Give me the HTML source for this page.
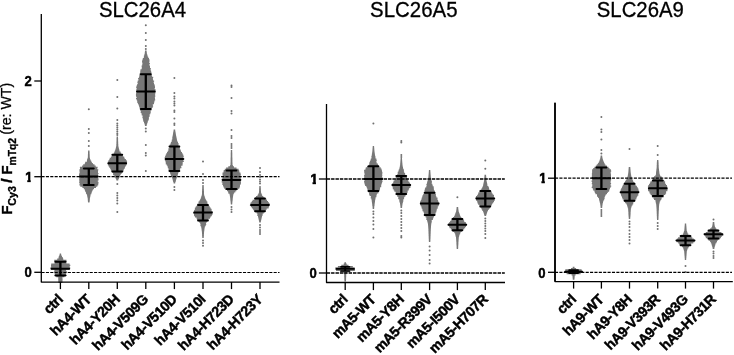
<!DOCTYPE html>
<html><head><meta charset="utf-8"><title>SLC26 surface expression</title>
<style>
html,body{margin:0;padding:0;background:#fff;}
svg{display:block;will-change:transform;}
text{font-family:"Liberation Sans",Arial,Helvetica,sans-serif;fill:#000;}
</style></head><body>
<svg width="734" height="355" viewBox="0 0 734 355">
<rect width="734" height="355" fill="#fff"/>
<polygon points="59.7,253.5 59.7,254.8 59.3,254.8 59.3,256.0 58.8,256.0 58.8,257.2 58.5,257.2 58.5,258.5 57.2,258.5 57.2,259.8 54.2,259.8 54.2,261.0 54.2,261.0 54.2,262.2 54.6,262.2 54.6,263.5 51.2,263.5 51.2,264.8 51.0,264.8 51.0,266.0 51.1,266.0 51.1,267.2 50.5,267.2 50.5,268.5 51.0,268.5 51.0,269.8 54.4,269.8 54.4,271.0 54.2,271.0 54.2,272.2 54.4,272.2 54.4,273.5 54.8,273.5 54.8,274.8 54.6,274.8 54.6,276.0 56.3,276.0 56.3,277.2 58.3,277.2 58.3,278.5 58.2,278.5 58.2,279.8 58.3,279.8 58.3,281.0 58.3,281.0 58.3,282.2 58.4,282.2 58.4,283.0 62.4,283.0 62.4,282.2 62.5,282.2 62.5,281.0 62.5,281.0 62.5,279.8 62.6,279.8 62.6,278.5 62.4,278.5 62.4,277.2 64.4,277.2 64.4,276.0 66.7,276.0 66.7,274.8 66.0,274.8 66.0,273.5 66.4,273.5 66.4,272.2 66.7,272.2 66.7,271.0 66.1,271.0 66.1,269.8 69.5,269.8 69.5,268.5 70.2,268.5 70.2,267.2 69.7,267.2 69.7,266.0 70.3,266.0 70.3,264.8 69.6,264.8 69.6,263.5 66.4,263.5 66.4,262.2 66.8,262.2 66.8,261.0 66.5,261.0 66.5,259.8 63.3,259.8 63.3,258.5 63.0,258.5 63.0,257.2 62.0,257.2 62.0,256.0 61.5,256.0 61.5,254.8 61.1,254.8 61.1,253.5" fill="#777777"/>

<polygon points="88.1,150.5 88.1,151.8 88.0,151.8 88.0,153.0 88.0,153.0 88.0,154.2 87.9,154.2 87.9,155.5 87.9,155.5 87.9,156.8 87.8,156.8 87.8,158.0 87.5,158.0 87.5,159.2 87.0,159.2 87.0,160.5 86.9,160.5 86.9,161.8 85.2,161.8 85.2,163.0 84.8,163.0 84.8,164.2 83.2,164.2 83.2,165.5 82.1,165.5 82.1,166.8 79.9,166.8 79.9,168.0 80.0,168.0 80.0,169.2 79.4,169.2 79.4,170.5 79.5,170.5 79.5,171.8 79.6,171.8 79.6,173.0 79.3,173.0 79.3,174.2 79.0,174.2 79.0,175.5 79.1,175.5 79.1,176.8 79.2,176.8 79.2,178.0 79.3,178.0 79.3,179.2 79.2,179.2 79.2,180.5 79.4,180.5 79.4,181.8 79.2,181.8 79.2,183.0 79.6,183.0 79.6,184.2 79.4,184.2 79.4,185.5 80.3,185.5 80.3,186.8 82.4,186.8 82.4,188.0 83.8,188.0 83.8,189.2 84.8,189.2 84.8,190.5 85.1,190.5 85.1,191.8 85.9,191.8 85.9,193.0 86.1,193.0 86.1,194.2 87.0,194.2 87.0,195.5 87.2,195.5 87.2,196.8 87.5,196.8 87.5,198.0 87.7,198.0 87.7,199.2 87.8,199.2 87.8,200.5 87.9,200.5 87.9,201.8 88.1,201.8 88.1,202.5 89.5,202.5 89.5,201.8 89.7,201.8 89.7,200.5 89.8,200.5 89.8,199.2 89.9,199.2 89.9,198.0 90.1,198.0 90.1,196.8 90.4,196.8 90.4,195.5 90.6,195.5 90.6,194.2 91.4,194.2 91.4,193.0 91.7,193.0 91.7,191.8 92.2,191.8 92.2,190.5 92.9,190.5 92.9,189.2 94.0,189.2 94.0,188.0 96.0,188.0 96.0,186.8 97.3,186.8 97.3,185.5 98.2,185.5 98.2,184.2 98.4,184.2 98.4,183.0 98.5,183.0 98.5,181.8 97.8,181.8 97.8,180.5 98.6,180.5 98.6,179.2 98.4,179.2 98.4,178.0 98.0,178.0 98.0,176.8 98.4,176.8 98.4,175.5 98.0,175.5 98.0,174.2 98.5,174.2 98.5,173.0 98.0,173.0 98.0,171.8 98.0,171.8 98.0,170.5 98.3,170.5 98.3,169.2 97.3,169.2 97.3,168.0 97.6,168.0 97.6,166.8 95.7,166.8 95.7,165.5 94.5,165.5 94.5,164.2 92.9,164.2 92.9,163.0 91.9,163.0 91.9,161.8 91.2,161.8 91.2,160.5 90.5,160.5 90.5,159.2 90.0,159.2 90.0,158.0 89.8,158.0 89.8,156.8 89.7,156.8 89.7,155.5 89.7,155.5 89.7,154.2 89.6,154.2 89.6,153.0 89.6,153.0 89.6,151.8 89.5,151.8 89.5,150.5" fill="#777777"/>
<circle cx="88.8" cy="109.2" r="1.00" fill="#707070"/><circle cx="88.8" cy="129.0" r="1.00" fill="#707070"/><circle cx="88.8" cy="133.0" r="1.00" fill="#707070"/><circle cx="88.8" cy="141.0" r="1.00" fill="#707070"/><circle cx="88.8" cy="146.0" r="1.00" fill="#707070"/>
<polygon points="116.6,136.5 116.6,137.8 116.5,137.8 116.5,139.0 116.5,139.0 116.5,140.2 116.5,140.2 116.5,141.5 116.4,141.5 116.4,142.8 116.4,142.8 116.4,144.0 116.3,144.0 116.3,145.2 116.3,145.2 116.3,146.5 116.0,146.5 116.0,147.8 115.7,147.8 115.7,149.0 115.4,149.0 115.4,150.2 114.9,150.2 114.9,151.5 114.3,151.5 114.3,152.8 113.7,152.8 113.7,154.0 112.3,154.0 112.3,155.2 111.8,155.2 111.8,156.5 110.9,156.5 110.9,157.8 109.7,157.8 109.7,159.0 109.3,159.0 109.3,160.2 108.4,160.2 108.4,161.5 107.9,161.5 107.9,162.8 107.4,162.8 107.4,164.0 107.8,164.0 107.8,165.2 108.5,165.2 108.5,166.5 109.2,166.5 109.2,167.8 110.2,167.8 110.2,169.0 110.7,169.0 110.7,170.2 111.1,170.2 111.1,171.5 112.2,171.5 112.2,172.8 113.1,172.8 113.1,174.0 113.1,174.0 113.1,175.2 114.4,175.2 114.4,176.5 114.7,176.5 114.7,177.8 115.7,177.8 115.7,179.0 116.2,179.0 116.2,180.2 116.5,180.2 116.5,180.5 118.1,180.5 118.1,180.2 118.4,180.2 118.4,179.0 118.9,179.0 118.9,177.8 119.6,177.8 119.6,176.5 120.0,176.5 120.0,175.2 120.7,175.2 120.7,174.0 121.6,174.0 121.6,172.8 122.4,172.8 122.4,171.5 123.5,171.5 123.5,170.2 123.8,170.2 123.8,169.0 124.6,169.0 124.6,167.8 125.0,167.8 125.0,166.5 125.9,166.5 125.9,165.2 126.7,165.2 126.7,164.0 126.8,164.0 126.8,162.8 127.1,162.8 127.1,161.5 126.8,161.5 126.8,160.2 125.9,160.2 125.9,159.0 124.7,159.0 124.7,157.8 124.2,157.8 124.2,156.5 122.9,156.5 122.9,155.2 122.5,155.2 122.5,154.0 121.2,154.0 121.2,152.8 120.6,152.8 120.6,151.5 119.5,151.5 119.5,150.2 119.2,150.2 119.2,149.0 118.9,149.0 118.9,147.8 118.6,147.8 118.6,146.5 118.3,146.5 118.3,145.2 118.3,145.2 118.3,144.0 118.2,144.0 118.2,142.8 118.2,142.8 118.2,141.5 118.1,141.5 118.1,140.2 118.1,140.2 118.1,139.0 118.1,139.0 118.1,137.8 118.0,137.8 118.0,136.5" fill="#777777"/>
<circle cx="117.3" cy="80.0" r="1.00" fill="#707070"/><circle cx="117.3" cy="97.0" r="1.00" fill="#707070"/><circle cx="117.3" cy="108.6" r="1.00" fill="#707070"/><circle cx="117.3" cy="120.0" r="1.00" fill="#707070"/><circle cx="117.3" cy="123.5" r="1.00" fill="#707070"/><circle cx="117.3" cy="125.5" r="1.00" fill="#707070"/><circle cx="117.3" cy="127.5" r="1.00" fill="#707070"/><circle cx="117.3" cy="129.5" r="1.00" fill="#707070"/><circle cx="117.3" cy="131.5" r="1.00" fill="#707070"/><circle cx="117.3" cy="133.5" r="1.00" fill="#707070"/><circle cx="117.3" cy="135.0" r="1.00" fill="#707070"/><circle cx="117.3" cy="184.0" r="1.00" fill="#707070"/><circle cx="117.3" cy="193.0" r="1.00" fill="#707070"/><circle cx="117.3" cy="195.5" r="1.00" fill="#707070"/><circle cx="117.3" cy="198.0" r="1.00" fill="#707070"/><circle cx="117.3" cy="200.5" r="1.00" fill="#707070"/><circle cx="117.3" cy="203.5" r="1.00" fill="#707070"/><circle cx="117.3" cy="212.0" r="1.00" fill="#707070"/>
<polygon points="145.0,50.5 145.0,51.8 144.8,51.8 144.8,53.0 144.7,53.0 144.7,54.2 144.3,54.2 144.3,55.5 143.9,55.5 143.9,56.8 143.8,56.8 143.8,58.0 142.8,58.0 142.8,59.2 142.5,59.2 142.5,60.5 142.0,60.5 142.0,61.8 142.2,61.8 142.2,63.0 142.4,63.0 142.4,64.2 142.2,64.2 142.2,65.5 141.6,65.5 141.6,66.8 141.8,66.8 141.8,68.0 141.7,68.0 141.7,69.2 140.5,69.2 140.5,70.5 140.3,70.5 140.3,71.8 140.2,71.8 140.2,73.0 139.7,73.0 139.7,74.2 139.4,74.2 139.4,75.5 139.3,75.5 139.3,76.8 138.9,76.8 138.9,78.0 138.1,78.0 138.1,79.2 138.5,79.2 138.5,80.5 137.7,80.5 137.7,81.8 137.4,81.8 137.4,83.0 137.7,83.0 137.7,84.2 137.0,84.2 137.0,85.5 136.5,85.5 136.5,86.8 136.2,86.8 136.2,88.0 136.6,88.0 136.6,89.2 136.3,89.2 136.3,90.5 136.3,90.5 136.3,91.8 136.3,91.8 136.3,93.0 136.1,93.0 136.1,94.2 135.9,94.2 135.9,95.5 136.0,95.5 136.0,96.8 136.6,96.8 136.6,98.0 136.0,98.0 136.0,99.2 136.7,99.2 136.7,100.5 137.2,100.5 137.2,101.8 137.3,101.8 137.3,103.0 137.9,103.0 137.9,104.2 138.6,104.2 138.6,105.5 139.0,105.5 139.0,106.8 139.5,106.8 139.5,108.0 139.7,108.0 139.7,109.2 140.0,109.2 140.0,110.5 140.8,110.5 140.8,111.8 140.7,111.8 140.7,113.0 141.5,113.0 141.5,114.2 141.7,114.2 141.7,115.5 142.6,115.5 142.6,116.8 142.4,116.8 142.4,118.0 142.8,118.0 142.8,119.2 143.1,119.2 143.1,120.5 143.3,120.5 143.3,121.8 144.0,121.8 144.0,123.0 144.4,123.0 144.4,124.2 144.8,124.2 144.8,125.5 145.0,125.5 145.0,126.0 146.6,126.0 146.6,125.5 146.8,125.5 146.8,124.2 147.2,124.2 147.2,123.0 147.6,123.0 147.6,121.8 147.9,121.8 147.9,120.5 148.7,120.5 148.7,119.2 148.9,119.2 148.9,118.0 148.9,118.0 148.9,116.8 149.7,116.8 149.7,115.5 149.6,115.5 149.6,114.2 150.4,114.2 150.4,113.0 150.7,113.0 150.7,111.8 150.7,111.8 150.7,110.5 151.5,110.5 151.5,109.2 151.5,109.2 151.5,108.0 152.6,108.0 152.6,106.8 153.1,106.8 153.1,105.5 152.8,105.5 152.8,104.2 154.0,104.2 154.0,103.0 154.2,103.0 154.2,101.8 154.5,101.8 154.5,100.5 155.2,100.5 155.2,99.2 155.0,99.2 155.0,98.0 154.9,98.0 154.9,96.8 155.3,96.8 155.3,95.5 155.1,95.5 155.1,94.2 155.3,94.2 155.3,93.0 155.5,93.0 155.5,91.8 155.5,91.8 155.5,90.5 155.6,90.5 155.6,89.2 154.7,89.2 154.7,88.0 155.0,88.0 155.0,86.8 154.9,86.8 154.9,85.5 154.6,85.5 154.6,84.2 154.0,84.2 154.0,83.0 153.7,83.0 153.7,81.8 154.1,81.8 154.1,80.5 153.1,80.5 153.1,79.2 152.9,79.2 152.9,78.0 153.2,78.0 153.2,76.8 152.0,76.8 152.0,75.5 151.7,75.5 151.7,74.2 151.5,74.2 151.5,73.0 151.4,73.0 151.4,71.8 151.1,71.8 151.1,70.5 150.6,70.5 150.6,69.2 150.8,69.2 150.8,68.0 150.0,68.0 150.0,66.8 150.0,66.8 150.0,65.5 149.3,65.5 149.3,64.2 149.9,64.2 149.9,63.0 149.3,63.0 149.3,61.8 149.5,61.8 149.5,60.5 149.5,60.5 149.5,59.2 149.0,59.2 149.0,58.0 148.3,58.0 148.3,56.8 147.7,56.8 147.7,55.5 147.3,55.5 147.3,54.2 146.9,54.2 146.9,53.0 146.8,53.0 146.8,51.8 146.6,51.8 146.6,50.5" fill="#777777"/>
<circle cx="145.8" cy="25.2" r="1.00" fill="#707070"/><circle cx="145.8" cy="33.0" r="1.00" fill="#707070"/><circle cx="145.8" cy="40.0" r="1.00" fill="#707070"/><circle cx="145.8" cy="46.0" r="1.00" fill="#707070"/><circle cx="145.8" cy="49.0" r="1.00" fill="#707070"/><circle cx="145.8" cy="128.5" r="1.00" fill="#707070"/><circle cx="145.8" cy="131.5" r="1.00" fill="#707070"/><circle cx="145.8" cy="145.0" r="1.00" fill="#707070"/><circle cx="145.8" cy="153.0" r="1.00" fill="#707070"/><circle cx="145.8" cy="155.5" r="1.00" fill="#707070"/><circle cx="145.8" cy="171.0" r="1.00" fill="#707070"/>
<polygon points="173.6,129.6 173.6,130.8 173.4,130.8 173.4,132.1 173.2,132.1 173.2,133.3 173.0,133.3 173.0,134.6 172.8,134.6 172.8,135.8 172.5,135.8 172.5,137.1 172.3,137.1 172.3,138.3 172.3,138.3 172.3,139.6 171.8,139.6 171.8,140.8 171.6,140.8 171.6,142.1 170.9,142.1 170.9,143.3 170.5,143.3 170.5,144.6 169.7,144.6 169.7,145.8 169.7,145.8 169.7,147.1 169.4,147.1 169.4,148.3 168.4,148.3 168.4,149.6 168.4,149.6 168.4,150.8 167.7,150.8 167.7,152.1 167.0,152.1 167.0,153.3 166.2,153.3 166.2,154.6 165.7,154.6 165.7,155.8 165.1,155.8 165.1,157.1 164.7,157.1 164.7,158.3 165.3,158.3 165.3,159.6 164.9,159.6 164.9,160.8 165.5,160.8 165.5,162.1 165.7,162.1 165.7,163.3 165.8,163.3 165.8,164.6 166.8,164.6 166.8,165.8 167.6,165.8 167.6,167.1 167.8,167.1 167.8,168.3 168.5,168.3 168.5,169.6 168.6,169.6 168.6,170.8 169.7,170.8 169.7,172.1 169.9,172.1 169.9,173.3 170.3,173.3 170.3,174.6 170.9,174.6 170.9,175.8 171.1,175.8 171.1,177.1 172.0,177.1 172.0,178.3 172.4,178.3 172.4,179.6 172.8,179.6 172.8,180.8 173.1,180.8 173.1,182.1 173.5,182.1 173.5,183.3 173.7,183.3 173.7,183.6 175.1,183.6 175.1,183.3 175.3,183.3 175.3,182.1 175.7,182.1 175.7,180.8 176.0,180.8 176.0,179.6 176.4,179.6 176.4,178.3 176.9,178.3 176.9,177.1 177.5,177.1 177.5,175.8 177.7,175.8 177.7,174.6 178.0,174.6 178.0,173.3 178.5,173.3 178.5,172.1 179.3,172.1 179.3,170.8 179.9,170.8 179.9,169.6 180.2,169.6 180.2,168.3 181.4,168.3 181.4,167.1 181.2,167.1 181.2,165.8 182.5,165.8 182.5,164.6 182.7,164.6 182.7,163.3 182.7,163.3 182.7,162.1 183.8,162.1 183.8,160.8 183.3,160.8 183.3,159.6 184.3,159.6 184.3,158.3 183.4,158.3 183.4,157.1 183.7,157.1 183.7,155.8 183.3,155.8 183.3,154.6 182.7,154.6 182.7,153.3 182.0,153.3 182.0,152.1 181.1,152.1 181.1,150.8 180.7,150.8 180.7,149.6 179.8,149.6 179.8,148.3 179.9,148.3 179.9,147.1 179.0,147.1 179.0,145.8 178.4,145.8 178.4,144.6 178.7,144.6 178.7,143.3 178.0,143.3 178.0,142.1 177.5,142.1 177.5,140.8 177.0,140.8 177.0,139.6 176.8,139.6 176.8,138.3 176.5,138.3 176.5,137.1 176.3,137.1 176.3,135.8 176.0,135.8 176.0,134.6 175.8,134.6 175.8,133.3 175.6,133.3 175.6,132.1 175.4,132.1 175.4,130.8 175.2,130.8 175.2,129.6" fill="#777777"/>
<circle cx="174.4" cy="78.0" r="1.00" fill="#707070"/><circle cx="174.4" cy="93.0" r="1.00" fill="#707070"/><circle cx="174.4" cy="96.5" r="1.00" fill="#707070"/><circle cx="174.4" cy="98.5" r="1.00" fill="#707070"/><circle cx="174.4" cy="101.5" r="1.00" fill="#707070"/><circle cx="174.4" cy="103.5" r="1.00" fill="#707070"/><circle cx="174.4" cy="105.5" r="1.00" fill="#707070"/><circle cx="174.4" cy="110.5" r="1.00" fill="#707070"/><circle cx="174.4" cy="112.0" r="1.00" fill="#707070"/><circle cx="174.4" cy="118.5" r="1.00" fill="#707070"/><circle cx="174.4" cy="123.5" r="1.00" fill="#707070"/><circle cx="174.4" cy="125.0" r="1.00" fill="#707070"/><circle cx="174.4" cy="187.0" r="1.00" fill="#707070"/><circle cx="174.4" cy="190.0" r="1.00" fill="#707070"/>
<polygon points="202.3,185.0 202.3,186.2 202.2,186.2 202.2,187.5 202.2,187.5 202.2,188.8 202.1,188.8 202.1,190.0 202.1,190.0 202.1,191.2 202.0,191.2 202.0,192.5 202.0,192.5 202.0,193.8 201.9,193.8 201.9,195.0 201.7,195.0 201.7,196.2 201.2,196.2 201.2,197.5 200.9,197.5 200.9,198.8 200.2,198.8 200.2,200.0 199.6,200.0 199.6,201.2 198.6,201.2 198.6,202.5 198.4,202.5 198.4,203.8 197.1,203.8 197.1,205.0 196.8,205.0 196.8,206.2 195.8,206.2 195.8,207.5 194.9,207.5 194.9,208.8 194.8,208.8 194.8,210.0 194.1,210.0 194.1,211.2 193.9,211.2 193.9,212.5 193.3,212.5 193.3,213.8 194.0,213.8 194.0,215.0 194.1,215.0 194.1,216.2 195.0,216.2 195.0,217.5 196.5,217.5 196.5,218.8 196.9,218.8 196.9,220.0 197.8,220.0 197.8,221.2 199.0,221.2 199.0,222.5 200.1,222.5 200.1,223.8 200.5,223.8 200.5,225.0 200.4,225.0 200.4,226.2 201.1,226.2 201.1,227.5 201.4,227.5 201.4,228.8 201.6,228.8 201.6,230.0 201.7,230.0 201.7,231.2 201.9,231.2 201.9,232.5 202.0,232.5 202.0,233.8 202.1,233.8 202.1,235.0 202.1,235.0 202.1,236.2 202.2,236.2 202.2,237.5 202.3,237.5 202.3,238.0 203.7,238.0 203.7,237.5 203.8,237.5 203.8,236.2 203.9,236.2 203.9,235.0 203.9,235.0 203.9,233.8 204.0,233.8 204.0,232.5 204.1,232.5 204.1,231.2 204.3,231.2 204.3,230.0 204.4,230.0 204.4,228.8 204.6,228.8 204.6,227.5 204.9,227.5 204.9,226.2 205.7,226.2 205.7,225.0 206.2,225.0 206.2,223.8 206.0,223.8 206.0,222.5 207.0,222.5 207.0,221.2 207.9,221.2 207.9,220.0 208.5,220.0 208.5,218.8 210.0,218.8 210.0,217.5 210.7,217.5 210.7,216.2 211.8,216.2 211.8,215.0 212.4,215.0 212.4,213.8 212.6,213.8 212.6,212.5 212.7,212.5 212.7,211.2 211.6,211.2 211.6,210.0 211.6,210.0 211.6,208.8 210.7,208.8 210.7,207.5 209.8,207.5 209.8,206.2 209.1,206.2 209.1,205.0 208.1,205.0 208.1,203.8 207.4,203.8 207.4,202.5 207.3,202.5 207.3,201.2 206.4,201.2 206.4,200.0 205.8,200.0 205.8,198.8 205.1,198.8 205.1,197.5 204.8,197.5 204.8,196.2 204.3,196.2 204.3,195.0 204.1,195.0 204.1,193.8 204.0,193.8 204.0,192.5 204.0,192.5 204.0,191.2 203.9,191.2 203.9,190.0 203.9,190.0 203.9,188.8 203.8,188.8 203.8,187.5 203.8,187.5 203.8,186.2 203.7,186.2 203.7,185.0" fill="#777777"/>
<circle cx="203.0" cy="161.5" r="1.00" fill="#707070"/><circle cx="203.0" cy="174.0" r="1.00" fill="#707070"/><circle cx="203.0" cy="180.0" r="1.00" fill="#707070"/><circle cx="203.0" cy="183.0" r="1.00" fill="#707070"/><circle cx="203.0" cy="240.5" r="1.00" fill="#707070"/><circle cx="203.0" cy="243.0" r="1.00" fill="#707070"/><circle cx="203.0" cy="245.7" r="1.00" fill="#707070"/>
<polygon points="230.8,150.0 230.8,151.2 230.8,151.2 230.8,152.5 230.7,152.5 230.7,153.8 230.7,153.8 230.7,155.0 230.7,155.0 230.7,156.2 230.7,156.2 230.7,157.5 230.6,157.5 230.6,158.8 230.6,158.8 230.6,160.0 230.6,160.0 230.6,161.2 230.6,161.2 230.6,162.5 230.5,162.5 230.5,163.8 230.5,163.8 230.5,165.0 230.1,165.0 230.1,166.2 228.3,166.2 228.3,167.5 226.1,167.5 226.1,168.8 224.8,168.8 224.8,170.0 223.7,170.0 223.7,171.2 223.5,171.2 223.5,172.5 222.5,172.5 222.5,173.8 222.5,173.8 222.5,175.0 222.7,175.0 222.7,176.2 222.5,176.2 222.5,177.5 222.4,177.5 222.4,178.8 221.7,178.8 221.7,180.0 222.3,180.0 222.3,181.2 221.6,181.2 221.6,182.5 222.4,182.5 222.4,183.8 222.3,183.8 222.3,185.0 223.0,185.0 223.0,186.2 223.5,186.2 223.5,187.5 224.2,187.5 224.2,188.8 225.3,188.8 225.3,190.0 227.0,190.0 227.0,191.2 228.1,191.2 228.1,192.5 228.4,192.5 228.4,193.8 229.6,193.8 229.6,195.0 229.8,195.0 229.8,196.2 230.0,196.2 230.0,197.5 230.2,197.5 230.2,198.8 230.3,198.8 230.3,200.0 230.4,200.0 230.4,201.2 230.6,201.2 230.6,202.5 230.7,202.5 230.7,203.8 230.8,203.8 230.8,204.5 232.2,204.5 232.2,203.8 232.3,203.8 232.3,202.5 232.4,202.5 232.4,201.2 232.6,201.2 232.6,200.0 232.7,200.0 232.7,198.8 232.8,198.8 232.8,197.5 233.0,197.5 233.0,196.2 233.2,196.2 233.2,195.0 233.4,195.0 233.4,193.8 234.1,193.8 234.1,192.5 235.3,192.5 235.3,191.2 236.4,191.2 236.4,190.0 238.1,190.0 238.1,188.8 239.3,188.8 239.3,187.5 239.9,187.5 239.9,186.2 240.0,186.2 240.0,185.0 240.5,185.0 240.5,183.8 241.0,183.8 241.0,182.5 240.9,182.5 240.9,181.2 240.6,181.2 240.6,180.0 241.2,180.0 241.2,178.8 240.7,178.8 240.7,177.5 241.2,177.5 241.2,176.2 240.6,176.2 240.6,175.0 240.8,175.0 240.8,173.8 240.5,173.8 240.5,172.5 239.4,172.5 239.4,171.2 239.2,171.2 239.2,170.0 238.6,170.0 238.6,168.8 236.5,168.8 236.5,167.5 234.0,167.5 234.0,166.2 232.9,166.2 232.9,165.0 232.5,165.0 232.5,163.8 232.5,163.8 232.5,162.5 232.4,162.5 232.4,161.2 232.4,161.2 232.4,160.0 232.4,160.0 232.4,158.8 232.4,158.8 232.4,157.5 232.3,157.5 232.3,156.2 232.3,156.2 232.3,155.0 232.3,155.0 232.3,153.8 232.3,153.8 232.3,152.5 232.2,152.5 232.2,151.2 232.2,151.2 232.2,150.0" fill="#777777"/>
<circle cx="231.5" cy="85.5" r="1.00" fill="#707070"/><circle cx="231.5" cy="87.0" r="1.00" fill="#707070"/><circle cx="231.5" cy="98.0" r="1.00" fill="#707070"/><circle cx="231.5" cy="111.0" r="1.00" fill="#707070"/><circle cx="231.5" cy="113.5" r="1.00" fill="#707070"/><circle cx="231.5" cy="130.0" r="1.00" fill="#707070"/><circle cx="231.5" cy="136.0" r="1.00" fill="#707070"/><circle cx="231.5" cy="138.0" r="1.00" fill="#707070"/><circle cx="231.5" cy="144.0" r="1.00" fill="#707070"/><circle cx="231.5" cy="146.0" r="1.00" fill="#707070"/><circle cx="231.5" cy="148.0" r="1.00" fill="#707070"/><circle cx="231.5" cy="207.0" r="1.00" fill="#707070"/><circle cx="231.5" cy="209.5" r="1.00" fill="#707070"/><circle cx="231.5" cy="212.0" r="1.00" fill="#707070"/>
<polygon points="259.3,186.0 259.3,187.2 259.2,187.2 259.2,188.5 259.1,188.5 259.1,189.8 259.1,189.8 259.1,191.0 259.0,191.0 259.0,192.2 258.9,192.2 258.9,193.5 258.2,193.5 258.2,194.8 257.5,194.8 257.5,196.0 256.0,196.0 256.0,197.2 255.2,197.2 255.2,198.5 254.4,198.5 254.4,199.8 252.6,199.8 252.6,201.0 251.8,201.0 251.8,202.2 250.7,202.2 250.7,203.5 250.2,203.5 250.2,204.8 249.9,204.8 249.9,206.0 250.9,206.0 250.9,207.2 251.9,207.2 251.9,208.5 252.9,208.5 252.9,209.8 253.8,209.8 253.8,211.0 254.9,211.0 254.9,212.2 256.6,212.2 256.6,213.5 257.4,213.5 257.4,214.8 257.3,214.8 257.3,216.0 258.0,216.0 258.0,217.2 258.3,217.2 258.3,218.5 258.6,218.5 258.6,219.8 258.9,219.8 258.9,221.0 259.1,221.0 259.1,222.2 259.3,222.2 259.3,222.5 260.7,222.5 260.7,222.2 260.9,222.2 260.9,221.0 261.1,221.0 261.1,219.8 261.4,219.8 261.4,218.5 261.7,218.5 261.7,217.2 262.0,217.2 262.0,216.0 262.5,216.0 262.5,214.8 262.7,214.8 262.7,213.5 263.8,213.5 263.8,212.2 265.0,212.2 265.0,211.0 265.9,211.0 265.9,209.8 266.7,209.8 266.7,208.5 268.6,208.5 268.6,207.2 269.1,207.2 269.1,206.0 269.2,206.0 269.2,204.8 269.9,204.8 269.9,203.5 269.0,203.5 269.0,202.2 268.0,202.2 268.0,201.0 267.0,201.0 267.0,199.8 266.3,199.8 266.3,198.5 264.3,198.5 264.3,197.2 263.3,197.2 263.3,196.0 262.2,196.0 262.2,194.8 261.8,194.8 261.8,193.5 261.1,193.5 261.1,192.2 261.0,192.2 261.0,191.0 260.9,191.0 260.9,189.8 260.9,189.8 260.9,188.5 260.8,188.5 260.8,187.2 260.7,187.2 260.7,186.0" fill="#777777"/>
<circle cx="260.0" cy="168.0" r="1.00" fill="#707070"/><circle cx="260.0" cy="172.0" r="1.00" fill="#707070"/><circle cx="260.0" cy="175.0" r="1.00" fill="#707070"/><circle cx="260.0" cy="177.0" r="1.00" fill="#707070"/><circle cx="260.0" cy="179.5" r="1.00" fill="#707070"/><circle cx="260.0" cy="181.5" r="1.00" fill="#707070"/><circle cx="260.0" cy="183.5" r="1.00" fill="#707070"/><circle cx="260.0" cy="225.0" r="1.00" fill="#707070"/><circle cx="260.0" cy="227.5" r="1.00" fill="#707070"/><circle cx="260.0" cy="230.0" r="1.00" fill="#707070"/><circle cx="260.0" cy="232.0" r="1.00" fill="#707070"/><circle cx="260.0" cy="234.0" r="1.00" fill="#707070"/>
<polygon points="344.4,262.2 344.4,263.4 343.7,263.4 343.7,264.7 341.3,264.7 341.3,265.9 337.9,265.9 337.9,267.2 335.4,267.2 335.4,268.4 335.8,268.4 335.8,269.7 336.0,269.7 336.0,270.9 340.2,270.9 340.2,272.2 343.4,272.2 343.4,273.4 344.1,273.4 344.1,274.7 344.2,274.7 344.2,275.9 344.2,275.9 344.2,277.2 344.3,277.2 344.3,278.4 344.3,278.4 344.3,279.7 344.4,279.7 344.4,280.9 344.4,280.9 344.4,281.5 346.0,281.5 346.0,280.9 346.0,280.9 346.0,279.7 346.1,279.7 346.1,278.4 346.1,278.4 346.1,277.2 346.2,277.2 346.2,275.9 346.2,275.9 346.2,274.7 346.3,274.7 346.3,273.4 347.0,273.4 347.0,272.2 350.3,272.2 350.3,270.9 354.8,270.9 354.8,269.7 354.5,269.7 354.5,268.4 354.7,268.4 354.7,267.2 352.8,267.2 352.8,265.9 348.5,265.9 348.5,264.7 346.7,264.7 346.7,263.4 346.0,263.4 346.0,262.2" fill="#777777"/>

<polygon points="372.7,146.0 372.7,147.2 372.6,147.2 372.6,148.5 372.5,148.5 372.5,149.8 372.4,149.8 372.4,151.0 372.3,151.0 372.3,152.2 372.1,152.2 372.1,153.5 371.9,153.5 371.9,154.8 371.7,154.8 371.7,156.0 371.4,156.0 371.4,157.2 371.5,157.2 371.5,158.5 370.8,158.5 370.8,159.8 370.4,159.8 370.4,161.0 369.9,161.0 369.9,162.2 369.3,162.2 369.3,163.5 369.3,163.5 369.3,164.8 368.8,164.8 368.8,166.0 367.1,166.0 367.1,167.2 365.8,167.2 365.8,168.5 365.4,168.5 365.4,169.8 364.1,169.8 364.1,171.0 364.2,171.0 364.2,172.2 364.3,172.2 364.3,173.5 364.7,173.5 364.7,174.8 364.1,174.8 364.1,176.0 364.2,176.0 364.2,177.2 364.2,177.2 364.2,178.5 364.1,178.5 364.1,179.8 364.5,179.8 364.5,181.0 364.1,181.0 364.1,182.2 364.3,182.2 364.3,183.5 364.7,183.5 364.7,184.8 365.1,184.8 365.1,186.0 366.3,186.0 366.3,187.2 366.9,187.2 366.9,188.5 367.4,188.5 367.4,189.8 367.7,189.8 367.7,191.0 368.0,191.0 368.0,192.2 369.1,192.2 369.1,193.5 369.1,193.5 369.1,194.8 369.6,194.8 369.6,196.0 370.9,196.0 370.9,197.2 370.7,197.2 370.7,198.5 371.4,198.5 371.4,199.8 371.7,199.8 371.7,201.0 371.8,201.0 371.8,202.2 372.0,202.2 372.0,203.5 372.2,203.5 372.2,204.8 372.3,204.8 372.3,206.0 372.5,206.0 372.5,207.2 372.6,207.2 372.6,208.5 372.7,208.5 372.7,209.0 374.1,209.0 374.1,208.5 374.2,208.5 374.2,207.2 374.3,207.2 374.3,206.0 374.5,206.0 374.5,204.8 374.6,204.8 374.6,203.5 374.8,203.5 374.8,202.2 375.0,202.2 375.0,201.0 375.1,201.0 375.1,199.8 375.4,199.8 375.4,198.5 375.6,198.5 375.6,197.2 376.4,197.2 376.4,196.0 376.5,196.0 376.5,194.8 376.9,194.8 376.9,193.5 378.3,193.5 378.3,192.2 378.9,192.2 378.9,191.0 379.5,191.0 379.5,189.8 380.0,189.8 380.0,188.5 380.1,188.5 380.1,187.2 381.2,187.2 381.2,186.0 381.2,186.0 381.2,184.8 381.5,184.8 381.5,183.5 382.0,183.5 382.0,182.2 382.5,182.2 382.5,181.0 382.3,181.0 382.3,179.8 382.4,179.8 382.4,178.5 382.6,178.5 382.6,177.2 382.1,177.2 382.1,176.0 382.3,176.0 382.3,174.8 382.2,174.8 382.2,173.5 382.5,173.5 382.5,172.2 382.1,172.2 382.1,171.0 381.9,171.0 381.9,169.8 381.5,169.8 381.5,168.5 380.7,168.5 380.7,167.2 379.3,167.2 379.3,166.0 378.2,166.0 378.2,164.8 377.9,164.8 377.9,163.5 376.7,163.5 376.7,162.2 376.4,162.2 376.4,161.0 376.7,161.0 376.7,159.8 376.4,159.8 376.4,158.5 375.5,158.5 375.5,157.2 375.4,157.2 375.4,156.0 375.1,156.0 375.1,154.8 374.9,154.8 374.9,153.5 374.7,153.5 374.7,152.2 374.5,152.2 374.5,151.0 374.4,151.0 374.4,149.8 374.3,149.8 374.3,148.5 374.2,148.5 374.2,147.2 374.1,147.2 374.1,146.0" fill="#777777"/>
<circle cx="373.4" cy="123.6" r="1.00" fill="#707070"/><circle cx="373.4" cy="211.5" r="1.00" fill="#707070"/><circle cx="373.4" cy="214.0" r="1.00" fill="#707070"/><circle cx="373.4" cy="217.5" r="1.00" fill="#707070"/><circle cx="373.4" cy="221.0" r="1.00" fill="#707070"/><circle cx="373.4" cy="224.5" r="1.00" fill="#707070"/><circle cx="373.4" cy="229.0" r="1.00" fill="#707070"/><circle cx="373.4" cy="237.6" r="1.00" fill="#707070"/>
<polygon points="400.6,158.0 400.6,159.2 400.5,159.2 400.5,160.5 400.4,160.5 400.4,161.8 400.3,161.8 400.3,163.0 400.2,163.0 400.2,164.2 400.1,164.2 400.1,165.5 399.9,165.5 399.9,166.8 399.6,166.8 399.6,168.0 399.4,168.0 399.4,169.2 398.8,169.2 398.8,170.5 398.4,170.5 398.4,171.8 397.7,171.8 397.7,173.0 397.7,173.0 397.7,174.2 397.1,174.2 397.1,175.5 396.2,175.5 396.2,176.8 395.8,176.8 395.8,178.0 395.6,178.0 395.6,179.2 394.6,179.2 394.6,180.5 393.6,180.5 393.6,181.8 393.2,181.8 393.2,183.0 392.4,183.0 392.4,184.2 391.9,184.2 391.9,185.5 392.3,185.5 392.3,186.8 392.7,186.8 392.7,188.0 392.8,188.0 392.8,189.2 393.7,189.2 393.7,190.5 394.4,190.5 394.4,191.8 395.7,191.8 395.7,193.0 396.4,193.0 396.4,194.2 396.8,194.2 396.8,195.5 397.2,195.5 397.2,196.8 398.3,196.8 398.3,198.0 398.2,198.0 398.2,199.2 399.3,199.2 399.3,200.5 399.3,200.5 399.3,201.8 399.7,201.8 399.7,203.0 400.0,203.0 400.0,204.2 400.2,204.2 400.2,205.5 400.4,205.5 400.4,206.8 400.5,206.8 400.5,208.0 402.1,208.0 402.1,206.8 402.2,206.8 402.2,205.5 402.4,205.5 402.4,204.2 402.6,204.2 402.6,203.0 402.9,203.0 402.9,201.8 403.3,201.8 403.3,200.5 403.3,200.5 403.3,199.2 404.1,199.2 404.1,198.0 404.2,198.0 404.2,196.8 405.3,196.8 405.3,195.5 405.8,195.5 405.8,194.2 406.4,194.2 406.4,193.0 407.5,193.0 407.5,191.8 407.7,191.8 407.7,190.5 408.7,190.5 408.7,189.2 409.2,189.2 409.2,188.0 410.4,188.0 410.4,186.8 410.5,186.8 410.5,185.5 410.6,185.5 410.6,184.2 410.1,184.2 410.1,183.0 409.5,183.0 409.5,181.8 408.5,181.8 408.5,180.5 407.9,180.5 407.9,179.2 407.5,179.2 407.5,178.0 407.0,178.0 407.0,176.8 405.9,176.8 405.9,175.5 405.2,175.5 405.2,174.2 405.1,174.2 405.1,173.0 404.3,173.0 404.3,171.8 403.9,171.8 403.9,170.5 403.9,170.5 403.9,169.2 403.2,169.2 403.2,168.0 403.0,168.0 403.0,166.8 402.7,166.8 402.7,165.5 402.5,165.5 402.5,164.2 402.4,164.2 402.4,163.0 402.3,163.0 402.3,161.8 402.2,161.8 402.2,160.5 402.1,160.5 402.1,159.2 402.0,159.2 402.0,158.0" fill="#777777"/>
<circle cx="401.3" cy="141.0" r="1.00" fill="#707070"/><circle cx="401.3" cy="142.5" r="1.00" fill="#707070"/><circle cx="401.3" cy="155.0" r="1.00" fill="#707070"/><circle cx="401.3" cy="157.0" r="1.00" fill="#707070"/><circle cx="401.3" cy="210.5" r="1.00" fill="#707070"/><circle cx="401.3" cy="213.0" r="1.00" fill="#707070"/><circle cx="401.3" cy="216.0" r="1.00" fill="#707070"/><circle cx="401.3" cy="219.0" r="1.00" fill="#707070"/><circle cx="401.3" cy="222.0" r="1.00" fill="#707070"/><circle cx="401.3" cy="225.0" r="1.00" fill="#707070"/><circle cx="401.3" cy="228.0" r="1.00" fill="#707070"/><circle cx="401.3" cy="231.0" r="1.00" fill="#707070"/><circle cx="401.3" cy="236.0" r="1.00" fill="#707070"/><circle cx="401.3" cy="237.5" r="1.00" fill="#707070"/>
<polygon points="428.9,170.0 428.9,171.2 428.8,171.2 428.8,172.5 428.7,172.5 428.7,173.8 428.6,173.8 428.6,175.0 428.5,175.0 428.5,176.2 428.4,176.2 428.4,177.5 428.2,177.5 428.2,178.8 427.9,178.8 427.9,180.0 427.7,180.0 427.7,181.2 427.2,181.2 427.2,182.5 427.0,182.5 427.0,183.8 426.4,183.8 426.4,185.0 426.6,185.0 426.6,186.2 426.2,186.2 426.2,187.5 425.1,187.5 425.1,188.8 424.8,188.8 424.8,190.0 424.5,190.0 424.5,191.2 424.6,191.2 424.6,192.5 424.3,192.5 424.3,193.8 423.2,193.8 423.2,195.0 422.6,195.0 422.6,196.2 422.2,196.2 422.2,197.5 421.7,197.5 421.7,198.8 421.4,198.8 421.4,200.0 420.8,200.0 420.8,201.2 420.2,201.2 420.2,202.5 420.0,202.5 420.0,203.8 420.2,203.8 420.2,205.0 420.6,205.0 420.6,206.2 421.4,206.2 421.4,207.5 421.7,207.5 421.7,208.8 422.4,208.8 422.4,210.0 422.5,210.0 422.5,211.2 423.4,211.2 423.4,212.5 424.0,212.5 424.0,213.8 424.0,213.8 424.0,215.0 424.6,215.0 424.6,216.2 425.6,216.2 425.6,217.5 426.4,217.5 426.4,218.8 426.3,218.8 426.3,220.0 427.1,220.0 427.1,221.2 427.4,221.2 427.4,222.5 427.8,222.5 427.8,223.8 428.0,223.8 428.0,225.0 428.1,225.0 428.1,226.2 428.2,226.2 428.2,227.5 428.3,227.5 428.3,228.8 428.4,228.8 428.4,230.0 428.4,230.0 428.4,231.2 428.5,231.2 428.5,232.5 428.5,232.5 428.5,233.8 428.6,233.8 428.6,235.0 428.6,235.0 428.6,236.2 428.7,236.2 428.7,237.5 428.7,237.5 428.7,238.8 428.8,238.8 428.8,240.0 428.8,240.0 428.8,241.2 428.9,241.2 428.9,242.0 430.3,242.0 430.3,241.2 430.4,241.2 430.4,240.0 430.4,240.0 430.4,238.8 430.5,238.8 430.5,237.5 430.5,237.5 430.5,236.2 430.6,236.2 430.6,235.0 430.6,235.0 430.6,233.8 430.7,233.8 430.7,232.5 430.7,232.5 430.7,231.2 430.8,231.2 430.8,230.0 430.8,230.0 430.8,228.8 430.9,228.8 430.9,227.5 431.0,227.5 431.0,226.2 431.1,226.2 431.1,225.0 431.2,225.0 431.2,223.8 431.4,223.8 431.4,222.5 431.8,222.5 431.8,221.2 431.7,221.2 431.7,220.0 432.9,220.0 432.9,218.8 433.2,218.8 433.2,217.5 433.9,217.5 433.9,216.2 434.2,216.2 434.2,215.0 435.4,215.0 435.4,213.8 435.6,213.8 435.6,212.5 436.3,212.5 436.3,211.2 436.6,211.2 436.6,210.0 436.8,210.0 436.8,208.8 437.7,208.8 437.7,207.5 437.8,207.5 437.8,206.2 438.7,206.2 438.7,205.0 439.1,205.0 439.1,203.8 439.4,203.8 439.4,202.5 438.4,202.5 438.4,201.2 438.1,201.2 438.1,200.0 437.5,200.0 437.5,198.8 437.5,198.8 437.5,197.5 436.4,197.5 436.4,196.2 435.9,196.2 435.9,195.0 435.9,195.0 435.9,193.8 435.2,193.8 435.2,192.5 435.0,192.5 435.0,191.2 434.4,191.2 434.4,190.0 433.9,190.0 433.9,188.8 433.8,188.8 433.8,187.5 433.7,187.5 433.7,186.2 432.7,186.2 432.7,185.0 432.4,185.0 432.4,183.8 431.7,183.8 431.7,182.5 432.0,182.5 432.0,181.2 431.5,181.2 431.5,180.0 431.3,180.0 431.3,178.8 431.0,178.8 431.0,177.5 430.8,177.5 430.8,176.2 430.7,176.2 430.7,175.0 430.6,175.0 430.6,173.8 430.5,173.8 430.5,172.5 430.4,172.5 430.4,171.2 430.3,171.2 430.3,170.0" fill="#777777"/>
<circle cx="429.6" cy="246.5" r="1.00" fill="#707070"/><circle cx="429.6" cy="250.5" r="1.00" fill="#707070"/><circle cx="429.6" cy="255.0" r="1.00" fill="#707070"/><circle cx="429.6" cy="260.0" r="1.00" fill="#707070"/><circle cx="429.6" cy="263.5" r="1.00" fill="#707070"/>
<polygon points="456.6,207.0 456.6,208.2 456.5,208.2 456.5,209.5 456.3,209.5 456.3,210.8 456.1,210.8 456.1,212.0 455.7,212.0 455.7,213.2 455.2,213.2 455.2,214.5 454.8,214.5 454.8,215.8 454.1,215.8 454.1,217.0 452.9,217.0 452.9,218.2 452.2,218.2 452.2,219.5 451.3,219.5 451.3,220.8 450.1,220.8 450.1,222.0 449.2,222.0 449.2,223.2 448.4,223.2 448.4,224.5 447.9,224.5 447.9,225.8 449.1,225.8 449.1,227.0 449.5,227.0 449.5,228.2 450.8,228.2 450.8,229.5 452.1,229.5 452.1,230.8 452.6,230.8 452.6,232.0 454.3,232.0 454.3,233.2 455.1,233.2 455.1,234.5 455.4,234.5 455.4,235.8 455.7,235.8 455.7,237.0 456.0,237.0 456.0,238.2 456.1,238.2 456.1,239.5 456.2,239.5 456.2,240.8 456.3,240.8 456.3,242.0 456.4,242.0 456.4,243.2 456.4,243.2 456.4,244.5 456.5,244.5 456.5,245.8 456.6,245.8 456.6,247.0 456.6,247.0 456.6,248.2 456.7,248.2 456.7,249.0 458.1,249.0 458.1,248.2 458.2,248.2 458.2,247.0 458.2,247.0 458.2,245.8 458.3,245.8 458.3,244.5 458.4,244.5 458.4,243.2 458.4,243.2 458.4,242.0 458.5,242.0 458.5,240.8 458.6,240.8 458.6,239.5 458.7,239.5 458.7,238.2 458.8,238.2 458.8,237.0 459.1,237.0 459.1,235.8 459.4,235.8 459.4,234.5 460.1,234.5 460.1,233.2 460.5,233.2 460.5,232.0 461.8,232.0 461.8,230.8 462.6,230.8 462.6,229.5 464.2,229.5 464.2,228.2 465.2,228.2 465.2,227.0 466.0,227.0 466.0,225.8 466.5,225.8 466.5,224.5 466.2,224.5 466.2,223.2 465.8,223.2 465.8,222.0 464.3,222.0 464.3,220.8 463.9,220.8 463.9,219.5 462.9,219.5 462.9,218.2 461.4,218.2 461.4,217.0 460.6,217.0 460.6,215.8 460.0,215.8 460.0,214.5 459.6,214.5 459.6,213.2 459.1,213.2 459.1,212.0 458.7,212.0 458.7,210.8 458.5,210.8 458.5,209.5 458.3,209.5 458.3,208.2 458.2,208.2 458.2,207.0" fill="#777777"/>
<circle cx="457.4" cy="197.2" r="1.00" fill="#707070"/>
<polygon points="484.5,174.8 484.5,176.1 484.4,176.1 484.4,177.3 484.3,177.3 484.3,178.6 484.2,178.6 484.2,179.8 484.1,179.8 484.1,181.1 483.9,181.1 483.9,182.3 483.6,182.3 483.6,183.6 483.3,183.6 483.3,184.8 483.1,184.8 483.1,186.1 482.7,186.1 482.7,187.3 482.1,187.3 482.1,188.6 481.3,188.6 481.3,189.8 480.5,189.8 480.5,191.1 479.6,191.1 479.6,192.3 478.4,192.3 478.4,193.6 478.0,193.6 478.0,194.8 477.1,194.8 477.1,196.1 476.0,196.1 476.0,197.3 475.6,197.3 475.6,198.6 476.0,198.6 476.0,199.8 476.3,199.8 476.3,201.1 477.2,201.1 477.2,202.3 477.5,202.3 477.5,203.6 478.1,203.6 478.1,204.8 479.3,204.8 479.3,206.1 479.7,206.1 479.7,207.3 481.1,207.3 481.1,208.6 481.7,208.6 481.7,209.8 482.3,209.8 482.3,211.1 483.1,211.1 483.1,212.3 483.6,212.3 483.6,213.6 484.0,213.6 484.0,214.8 484.4,214.8 484.4,216.0 486.2,216.0 486.2,214.8 486.6,214.8 486.6,213.6 487.0,213.6 487.0,212.3 487.5,212.3 487.5,211.1 488.0,211.1 488.0,209.8 489.1,209.8 489.1,208.6 490.1,208.6 490.1,207.3 490.3,207.3 490.3,206.1 491.5,206.1 491.5,204.8 492.1,204.8 492.1,203.6 493.1,203.6 493.1,202.3 494.0,202.3 494.0,201.1 494.6,201.1 494.6,199.8 494.4,199.8 494.4,198.6 494.4,198.6 494.4,197.3 493.9,197.3 493.9,196.1 494.0,196.1 494.0,194.8 492.8,194.8 492.8,193.6 491.9,193.6 491.9,192.3 491.4,192.3 491.4,191.1 489.9,191.1 489.9,189.8 489.2,189.8 489.2,188.6 489.0,188.6 489.0,187.3 488.4,187.3 488.4,186.1 487.4,186.1 487.4,184.8 487.3,184.8 487.3,183.6 487.0,183.6 487.0,182.3 486.7,182.3 486.7,181.1 486.5,181.1 486.5,179.8 486.4,179.8 486.4,178.6 486.3,178.6 486.3,177.3 486.2,177.3 486.2,176.1 486.1,176.1 486.1,174.8" fill="#777777"/>
<circle cx="485.3" cy="160.4" r="1.00" fill="#707070"/><circle cx="485.3" cy="168.8" r="1.00" fill="#707070"/><circle cx="485.3" cy="218.5" r="1.00" fill="#707070"/><circle cx="485.3" cy="221.0" r="1.00" fill="#707070"/><circle cx="485.3" cy="223.5" r="1.00" fill="#707070"/><circle cx="485.3" cy="226.0" r="1.00" fill="#707070"/><circle cx="485.3" cy="228.5" r="1.00" fill="#707070"/><circle cx="485.3" cy="231.0" r="1.00" fill="#707070"/><circle cx="485.3" cy="234.0" r="1.00" fill="#707070"/><circle cx="485.3" cy="238.0" r="1.00" fill="#707070"/>
<polygon points="572.7,266.8 572.7,268.1 571.0,268.1 571.0,269.3 565.3,269.3 565.3,270.6 565.2,270.6 565.2,271.8 564.9,271.8 564.9,273.1 566.6,273.1 566.6,274.3 571.6,274.3 571.6,275.6 572.5,275.6 572.5,276.8 572.6,276.8 572.6,278.1 572.7,278.1 572.7,279.3 572.8,279.3 572.8,279.8 574.4,279.8 574.4,279.3 574.5,279.3 574.5,278.1 574.6,278.1 574.6,276.8 574.7,276.8 574.7,275.6 575.6,275.6 575.6,274.3 580.6,274.3 580.6,273.1 582.1,273.1 582.1,271.8 582.2,271.8 582.2,270.6 581.6,270.6 581.6,269.3 576.1,269.3 576.1,268.1 574.5,268.1 574.5,266.8" fill="#777777"/>

<polygon points="600.6,155.5 600.6,156.8 600.4,156.8 600.4,158.0 600.2,158.0 600.2,159.2 599.8,159.2 599.8,160.5 599.3,160.5 599.3,161.8 598.7,161.8 598.7,163.0 597.9,163.0 597.9,164.2 596.8,164.2 596.8,165.5 595.8,165.5 595.8,166.8 594.4,166.8 594.4,168.0 593.2,168.0 593.2,169.2 592.1,169.2 592.1,170.5 592.1,170.5 592.1,171.8 592.1,171.8 592.1,173.0 591.9,173.0 591.9,174.2 591.9,174.2 591.9,175.5 591.9,175.5 591.9,176.8 591.7,176.8 591.7,178.0 592.1,178.0 592.1,179.2 592.2,179.2 592.2,180.5 591.5,180.5 591.5,181.8 592.1,181.8 592.1,183.0 591.8,183.0 591.8,184.2 592.3,184.2 592.3,185.5 592.2,185.5 592.2,186.8 591.7,186.8 591.7,188.0 592.7,188.0 592.7,189.2 593.1,189.2 593.1,190.5 594.4,190.5 594.4,191.8 594.8,191.8 594.8,193.0 595.4,193.0 595.4,194.2 597.0,194.2 597.0,195.5 597.0,195.5 597.0,196.8 598.1,196.8 598.1,198.0 598.9,198.0 598.9,199.2 599.1,199.2 599.1,200.5 599.5,200.5 599.5,201.8 599.8,201.8 599.8,203.0 600.1,203.0 600.1,204.2 600.3,204.2 600.3,205.5 600.5,205.5 600.5,206.8 600.6,206.8 600.6,208.0 602.2,208.0 602.2,206.8 602.3,206.8 602.3,205.5 602.5,205.5 602.5,204.2 602.7,204.2 602.7,203.0 603.0,203.0 603.0,201.8 603.3,201.8 603.3,200.5 604.1,200.5 604.1,199.2 604.6,199.2 604.6,198.0 604.6,198.0 604.6,196.8 605.1,196.8 605.1,195.5 605.8,195.5 605.8,194.2 607.0,194.2 607.0,193.0 607.8,193.0 607.8,191.8 609.1,191.8 609.1,190.5 609.4,190.5 609.4,189.2 610.0,189.2 610.0,188.0 610.5,188.0 610.5,186.8 611.2,186.8 611.2,185.5 610.5,185.5 610.5,184.2 611.1,184.2 611.1,183.0 610.6,183.0 610.6,181.8 610.7,181.8 610.7,180.5 611.1,180.5 611.1,179.2 611.2,179.2 611.2,178.0 611.0,178.0 611.0,176.8 611.0,176.8 611.0,175.5 611.0,175.5 611.0,174.2 610.8,174.2 610.8,173.0 610.7,173.0 610.7,171.8 611.2,171.8 611.2,170.5 610.9,170.5 610.9,169.2 609.5,169.2 609.5,168.0 608.5,168.0 608.5,166.8 606.9,166.8 606.9,165.5 605.4,165.5 605.4,164.2 604.6,164.2 604.6,163.0 604.1,163.0 604.1,161.8 603.5,161.8 603.5,160.5 603.0,160.5 603.0,159.2 602.6,159.2 602.6,158.0 602.4,158.0 602.4,156.8 602.2,156.8 602.2,155.5" fill="#777777"/>
<circle cx="601.4" cy="116.9" r="1.00" fill="#707070"/><circle cx="601.4" cy="129.6" r="1.00" fill="#707070"/><circle cx="601.4" cy="132.0" r="1.00" fill="#707070"/><circle cx="601.4" cy="139.5" r="1.00" fill="#707070"/><circle cx="601.4" cy="150.0" r="1.00" fill="#707070"/><circle cx="601.4" cy="153.5" r="1.00" fill="#707070"/><circle cx="601.4" cy="210.0" r="1.00" fill="#707070"/><circle cx="601.4" cy="212.0" r="1.00" fill="#707070"/><circle cx="601.4" cy="214.0" r="1.00" fill="#707070"/><circle cx="601.4" cy="216.0" r="1.00" fill="#707070"/>
<polygon points="628.7,167.0 628.7,168.2 628.6,168.2 628.6,169.5 628.5,169.5 628.5,170.8 628.4,170.8 628.4,172.0 628.3,172.0 628.3,173.2 628.1,173.2 628.1,174.5 627.9,174.5 627.9,175.8 627.6,175.8 627.6,177.0 627.3,177.0 627.3,178.2 626.8,178.2 626.8,179.5 625.9,179.5 625.9,180.8 625.1,180.8 625.1,182.0 624.5,182.0 624.5,183.2 624.4,183.2 624.4,184.5 622.9,184.5 622.9,185.8 622.3,185.8 622.3,187.0 621.9,187.0 621.9,188.2 621.1,188.2 621.1,189.5 620.6,189.5 620.6,190.8 620.4,190.8 620.4,192.0 620.1,192.0 620.1,193.2 620.8,193.2 620.8,194.5 621.0,194.5 621.0,195.8 621.7,195.8 621.7,197.0 622.1,197.0 622.1,198.2 622.6,198.2 622.6,199.5 623.6,199.5 623.6,200.8 624.4,200.8 624.4,202.0 625.1,202.0 625.1,203.2 626.3,203.2 626.3,204.5 627.0,204.5 627.0,205.8 627.4,205.8 627.4,207.0 627.7,207.0 627.7,208.2 628.1,208.2 628.1,209.5 628.2,209.5 628.2,210.8 628.3,210.8 628.3,212.0 628.4,212.0 628.4,213.2 628.4,213.2 628.4,214.5 628.5,214.5 628.5,215.8 628.6,215.8 628.6,217.0 628.7,217.0 628.7,218.2 628.8,218.2 628.8,219.0 630.2,219.0 630.2,218.2 630.3,218.2 630.3,217.0 630.4,217.0 630.4,215.8 630.5,215.8 630.5,214.5 630.6,214.5 630.6,213.2 630.6,213.2 630.6,212.0 630.7,212.0 630.7,210.8 630.8,210.8 630.8,209.5 630.9,209.5 630.9,208.2 631.3,208.2 631.3,207.0 631.6,207.0 631.6,205.8 632.4,205.8 632.4,204.5 633.2,204.5 633.2,203.2 633.4,203.2 633.4,202.0 634.8,202.0 634.8,200.8 635.4,200.8 635.4,199.5 636.3,199.5 636.3,198.2 636.7,198.2 636.7,197.0 637.3,197.0 637.3,195.8 638.3,195.8 638.3,194.5 638.2,194.5 638.2,193.2 638.7,193.2 638.7,192.0 639.2,192.0 639.2,190.8 638.6,190.8 638.6,189.5 638.3,189.5 638.3,188.2 637.6,188.2 637.6,187.0 636.9,187.0 636.9,185.8 635.7,185.8 635.7,184.5 635.4,184.5 635.4,183.2 634.4,183.2 634.4,182.0 633.3,182.0 633.3,180.8 632.9,180.8 632.9,179.5 632.1,179.5 632.1,178.2 631.9,178.2 631.9,177.0 631.4,177.0 631.4,175.8 631.1,175.8 631.1,174.5 630.9,174.5 630.9,173.2 630.7,173.2 630.7,172.0 630.6,172.0 630.6,170.8 630.5,170.8 630.5,169.5 630.4,169.5 630.4,168.2 630.3,168.2 630.3,167.0" fill="#777777"/>
<circle cx="629.5" cy="149.0" r="1.00" fill="#707070"/><circle cx="629.5" cy="221.5" r="1.00" fill="#707070"/><circle cx="629.5" cy="224.0" r="1.00" fill="#707070"/><circle cx="629.5" cy="227.0" r="1.00" fill="#707070"/><circle cx="629.5" cy="230.5" r="1.00" fill="#707070"/><circle cx="629.5" cy="234.0" r="1.00" fill="#707070"/><circle cx="629.5" cy="237.0" r="1.00" fill="#707070"/><circle cx="629.5" cy="240.0" r="1.00" fill="#707070"/><circle cx="629.5" cy="243.6" r="1.00" fill="#707070"/>
<polygon points="657.0,160.0 657.0,161.2 656.9,161.2 656.9,162.5 656.8,162.5 656.8,163.8 656.8,163.8 656.8,165.0 656.7,165.0 656.7,166.2 656.7,166.2 656.7,167.5 656.6,167.5 656.6,168.8 656.4,168.8 656.4,170.0 656.3,170.0 656.3,171.2 656.1,171.2 656.1,172.5 656.0,172.5 656.0,173.8 655.9,173.8 655.9,175.0 655.4,175.0 655.4,176.2 654.0,176.2 654.0,177.5 653.3,177.5 653.3,178.8 652.9,178.8 652.9,180.0 652.0,180.0 652.0,181.2 650.5,181.2 650.5,182.5 650.0,182.5 650.0,183.8 649.0,183.8 649.0,185.0 648.3,185.0 648.3,186.2 647.9,186.2 647.9,187.5 648.6,187.5 648.6,188.8 648.0,188.8 648.0,190.0 648.1,190.0 648.1,191.2 649.3,191.2 649.3,192.5 649.7,192.5 649.7,193.8 650.6,193.8 650.6,195.0 651.7,195.0 651.7,196.2 652.0,196.2 652.0,197.5 653.4,197.5 653.4,198.8 654.0,198.8 654.0,200.0 655.4,200.0 655.4,201.2 655.6,201.2 655.6,202.5 655.9,202.5 655.9,203.8 656.2,203.8 656.2,205.0 656.3,205.0 656.3,206.2 656.4,206.2 656.4,207.5 656.5,207.5 656.5,208.8 656.6,208.8 656.6,210.0 656.6,210.0 656.6,211.2 656.7,211.2 656.7,212.5 656.7,212.5 656.7,213.8 656.8,213.8 656.8,215.0 656.8,215.0 656.8,216.2 656.9,216.2 656.9,217.5 656.9,217.5 656.9,218.8 657.0,218.8 657.0,220.0 658.4,220.0 658.4,218.8 658.5,218.8 658.5,217.5 658.5,217.5 658.5,216.2 658.6,216.2 658.6,215.0 658.6,215.0 658.6,213.8 658.7,213.8 658.7,212.5 658.7,212.5 658.7,211.2 658.8,211.2 658.8,210.0 658.9,210.0 658.9,208.8 658.9,208.8 658.9,207.5 659.0,207.5 659.0,206.2 659.1,206.2 659.1,205.0 659.2,205.0 659.2,203.8 659.5,203.8 659.5,202.5 659.8,202.5 659.8,201.2 660.5,201.2 660.5,200.0 661.3,200.0 661.3,198.8 661.7,198.8 661.7,197.5 663.5,197.5 663.5,196.2 663.8,196.2 663.8,195.0 665.3,195.0 665.3,193.8 666.1,193.8 666.1,192.5 666.1,192.5 666.1,191.2 667.4,191.2 667.4,190.0 667.6,190.0 667.6,188.8 667.5,188.8 667.5,187.5 667.2,187.5 667.2,186.2 667.0,186.2 667.0,185.0 666.0,185.0 666.0,183.8 665.1,183.8 665.1,182.5 665.1,182.5 665.1,181.2 664.2,181.2 664.2,180.0 662.5,180.0 662.5,178.8 661.9,178.8 661.9,177.5 661.5,177.5 661.5,176.2 660.2,176.2 660.2,175.0 659.8,175.0 659.8,173.8 659.4,173.8 659.4,172.5 659.3,172.5 659.3,171.2 659.1,171.2 659.1,170.0 659.0,170.0 659.0,168.8 658.8,168.8 658.8,167.5 658.7,167.5 658.7,166.2 658.7,166.2 658.7,165.0 658.6,165.0 658.6,163.8 658.6,163.8 658.6,162.5 658.5,162.5 658.5,161.2 658.4,161.2 658.4,160.0" fill="#777777"/>
<circle cx="657.7" cy="146.0" r="1.00" fill="#707070"/><circle cx="657.7" cy="155.0" r="1.00" fill="#707070"/><circle cx="657.7" cy="223.0" r="1.00" fill="#707070"/><circle cx="657.7" cy="226.0" r="1.00" fill="#707070"/><circle cx="657.7" cy="229.0" r="1.00" fill="#707070"/>
<polygon points="684.8,223.6 684.8,224.8 684.7,224.8 684.7,226.1 684.6,226.1 684.6,227.3 684.5,227.3 684.5,228.6 684.4,228.6 684.4,229.8 684.3,229.8 684.3,231.1 683.9,231.1 683.9,232.3 683.5,232.3 683.5,233.6 682.9,233.6 682.9,234.8 681.1,234.8 681.1,236.1 680.2,236.1 680.2,237.3 678.1,237.3 678.1,238.6 676.9,238.6 676.9,239.8 675.6,239.8 675.6,241.1 676.6,241.1 676.6,242.3 678.2,242.3 678.2,243.6 679.2,243.6 679.2,244.8 681.3,244.8 681.3,246.1 682.1,246.1 682.1,247.3 683.1,247.3 683.1,248.6 683.5,248.6 683.5,249.8 683.9,249.8 683.9,251.1 684.2,251.1 684.2,252.3 684.3,252.3 684.3,253.6 684.4,253.6 684.4,254.8 684.5,254.8 684.5,256.1 684.6,256.1 684.6,257.4 684.7,257.4 684.7,258.6 684.8,258.6 684.8,259.9 684.8,259.9 684.8,260.0 686.2,260.0 686.2,259.9 686.2,259.9 686.2,258.6 686.3,258.6 686.3,257.4 686.4,257.4 686.4,256.1 686.5,256.1 686.5,254.8 686.6,254.8 686.6,253.6 686.7,253.6 686.7,252.3 686.8,252.3 686.8,251.1 687.1,251.1 687.1,249.8 687.5,249.8 687.5,248.6 688.3,248.6 688.3,247.3 689.1,247.3 689.1,246.1 690.3,246.1 690.3,244.8 691.2,244.8 691.2,243.6 693.3,243.6 693.3,242.3 694.5,242.3 694.5,241.1 695.2,241.1 695.2,239.8 693.8,239.8 693.8,238.6 692.3,238.6 692.3,237.3 691.3,237.3 691.3,236.1 690.1,236.1 690.1,234.8 688.3,234.8 688.3,233.6 687.5,233.6 687.5,232.3 687.1,232.3 687.1,231.1 686.7,231.1 686.7,229.8 686.6,229.8 686.6,228.6 686.5,228.6 686.5,227.3 686.4,227.3 686.4,226.1 686.3,226.1 686.3,224.8 686.2,224.8 686.2,223.6" fill="#777777"/>
<circle cx="685.5" cy="266.0" r="1.00" fill="#707070"/><circle cx="685.5" cy="272.0" r="1.00" fill="#707070"/>
<polygon points="712.7,222.0 712.7,223.2 712.6,223.2 712.6,224.5 712.4,224.5 712.4,225.8 712.1,225.8 712.1,227.0 711.5,227.0 711.5,228.2 710.2,228.2 710.2,229.5 709.2,229.5 709.2,230.8 707.6,230.8 707.6,232.0 705.8,232.0 705.8,233.2 703.8,233.2 703.8,234.5 704.5,234.5 704.5,235.8 705.4,235.8 705.4,237.0 705.8,237.0 705.8,238.2 707.6,238.2 707.6,239.5 708.6,239.5 708.6,240.8 710.1,240.8 710.1,242.0 710.8,242.0 710.8,243.2 711.4,243.2 711.4,244.5 711.8,244.5 711.8,245.8 712.2,245.8 712.2,247.0 712.5,247.0 712.5,248.2 712.7,248.2 712.7,249.0 714.3,249.0 714.3,248.2 714.5,248.2 714.5,247.0 714.8,247.0 714.8,245.8 715.2,245.8 715.2,244.5 715.6,244.5 715.6,243.2 716.5,243.2 716.5,242.0 717.0,242.0 717.0,240.8 717.8,240.8 717.8,239.5 719.7,239.5 719.7,238.2 720.9,238.2 720.9,237.0 721.7,237.0 721.7,235.8 723.3,235.8 723.3,234.5 722.5,234.5 722.5,233.2 721.4,233.2 721.4,232.0 719.2,232.0 719.2,230.8 717.8,230.8 717.8,229.5 716.3,229.5 716.3,228.2 715.5,228.2 715.5,227.0 714.9,227.0 714.9,225.8 714.6,225.8 714.6,224.5 714.4,224.5 714.4,223.2 714.3,223.2 714.3,222.0" fill="#777777"/>
<circle cx="713.5" cy="219.5" r="1.00" fill="#707070"/><circle cx="713.5" cy="251.5" r="1.00" fill="#707070"/><circle cx="713.5" cy="253.5" r="1.00" fill="#707070"/><circle cx="713.5" cy="256.0" r="1.00" fill="#707070"/><circle cx="713.5" cy="258.0" r="1.00" fill="#707070"/>
<line x1="41.5" y1="272.5" x2="279.5" y2="272.5" stroke="#000" stroke-width="1.2" stroke-dasharray="3.1 1.28"/>
<line x1="41.5" y1="176.7" x2="279.5" y2="176.7" stroke="#000" stroke-width="1.2" stroke-dasharray="3.1 1.28"/>
<line x1="326.7" y1="273.0" x2="504.8" y2="273.0" stroke="#000" stroke-width="1.6" stroke-dasharray="3.45 0.93"/>
<line x1="326.7" y1="179.0" x2="504.8" y2="179.0" stroke="#000" stroke-width="1.6" stroke-dasharray="3.45 0.93"/>
<line x1="555.0" y1="272.3" x2="732.0" y2="272.3" stroke="#000" stroke-width="1.2" stroke-dasharray="3.1 1.28"/>
<line x1="555.0" y1="178.2" x2="732.0" y2="178.2" stroke="#000" stroke-width="1.2" stroke-dasharray="3.1 1.28"/>
<g stroke="#000" stroke-width="2.0" fill="none" stroke-linecap="round"><line x1="60.4" y1="261.8" x2="60.4" y2="275.6" stroke-width="2.3" stroke-linecap="butt"/><line x1="55.5" y1="261.8" x2="65.3" y2="261.8"/><line x1="55.5" y1="275.6" x2="65.3" y2="275.6"/><line x1="51.5" y1="268.7" x2="69.2" y2="268.7"/></g>
<g stroke="#000" stroke-width="2.0" fill="none" stroke-linecap="round"><line x1="88.8" y1="168.5" x2="88.8" y2="184.9" stroke-width="2.3" stroke-linecap="butt"/><line x1="83.9" y1="168.5" x2="93.7" y2="168.5"/><line x1="83.9" y1="184.9" x2="93.7" y2="184.9"/><line x1="80.0" y1="176.5" x2="97.6" y2="176.5"/></g>
<g stroke="#000" stroke-width="2.0" fill="none" stroke-linecap="round"><line x1="117.3" y1="154.8" x2="117.3" y2="171.6" stroke-width="2.3" stroke-linecap="butt"/><line x1="112.4" y1="154.8" x2="122.2" y2="154.8"/><line x1="112.4" y1="171.6" x2="122.2" y2="171.6"/><line x1="108.5" y1="163.3" x2="126.1" y2="163.3"/></g>
<g stroke="#000" stroke-width="2.0" fill="none" stroke-linecap="round"><line x1="145.8" y1="74.2" x2="145.8" y2="108.9" stroke-width="2.3" stroke-linecap="butt"/><line x1="140.9" y1="74.2" x2="150.7" y2="74.2"/><line x1="140.9" y1="108.9" x2="150.7" y2="108.9"/><line x1="137.0" y1="91.6" x2="154.7" y2="91.6"/></g>
<g stroke="#000" stroke-width="2.0" fill="none" stroke-linecap="round"><line x1="174.4" y1="146.4" x2="174.4" y2="171.0" stroke-width="2.3" stroke-linecap="butt"/><line x1="169.5" y1="146.4" x2="179.3" y2="146.4"/><line x1="169.5" y1="171.0" x2="179.3" y2="171.0"/><line x1="165.6" y1="158.9" x2="183.2" y2="158.9"/></g>
<g stroke="#000" stroke-width="2.0" fill="none" stroke-linecap="round"><line x1="203.0" y1="204.9" x2="203.0" y2="220.6" stroke-width="2.3" stroke-linecap="butt"/><line x1="198.1" y1="204.9" x2="207.9" y2="204.9"/><line x1="198.1" y1="220.6" x2="207.9" y2="220.6"/><line x1="194.2" y1="212.5" x2="211.8" y2="212.5"/></g>
<g stroke="#000" stroke-width="2.0" fill="none" stroke-linecap="round"><line x1="231.5" y1="170.5" x2="231.5" y2="189.0" stroke-width="2.3" stroke-linecap="butt"/><line x1="226.6" y1="170.5" x2="236.4" y2="170.5"/><line x1="226.6" y1="189.0" x2="236.4" y2="189.0"/><line x1="222.7" y1="180.0" x2="240.3" y2="180.0"/></g>
<g stroke="#000" stroke-width="2.0" fill="none" stroke-linecap="round"><line x1="260.0" y1="198.4" x2="260.0" y2="211.3" stroke-width="2.3" stroke-linecap="butt"/><line x1="255.1" y1="198.4" x2="264.9" y2="198.4"/><line x1="255.1" y1="211.3" x2="264.9" y2="211.3"/><line x1="251.2" y1="204.9" x2="268.9" y2="204.9"/></g>
<g stroke="#000" stroke-width="1.7" fill="none" stroke-linecap="round"><line x1="345.2" y1="266.8" x2="345.2" y2="271.0" stroke-width="2.0" stroke-linecap="butt"/><line x1="341.0" y1="266.8" x2="349.4" y2="266.8"/><line x1="341.0" y1="271.0" x2="349.4" y2="271.0"/><line x1="336.3" y1="268.9" x2="354.1" y2="268.9"/></g>
<g stroke="#000" stroke-width="2.0" fill="none" stroke-linecap="round"><line x1="373.4" y1="166.3" x2="373.4" y2="191.0" stroke-width="2.3" stroke-linecap="butt"/><line x1="368.5" y1="166.3" x2="378.3" y2="166.3"/><line x1="368.5" y1="191.0" x2="378.3" y2="191.0"/><line x1="364.5" y1="179.0" x2="382.2" y2="179.0"/></g>
<g stroke="#000" stroke-width="2.0" fill="none" stroke-linecap="round"><line x1="401.3" y1="176.0" x2="401.3" y2="193.9" stroke-width="2.3" stroke-linecap="butt"/><line x1="396.4" y1="176.0" x2="406.2" y2="176.0"/><line x1="396.4" y1="193.9" x2="406.2" y2="193.9"/><line x1="392.4" y1="185.1" x2="410.2" y2="185.1"/></g>
<g stroke="#000" stroke-width="2.0" fill="none" stroke-linecap="round"><line x1="429.6" y1="192.7" x2="429.6" y2="215.0" stroke-width="2.3" stroke-linecap="butt"/><line x1="424.7" y1="192.7" x2="434.5" y2="192.7"/><line x1="424.7" y1="215.0" x2="434.5" y2="215.0"/><line x1="420.8" y1="203.6" x2="438.5" y2="203.6"/></g>
<g stroke="#000" stroke-width="2.0" fill="none" stroke-linecap="round"><line x1="457.4" y1="218.9" x2="457.4" y2="230.3" stroke-width="2.3" stroke-linecap="butt"/><line x1="452.5" y1="218.9" x2="462.3" y2="218.9"/><line x1="452.5" y1="230.3" x2="462.3" y2="230.3"/><line x1="448.5" y1="224.8" x2="466.2" y2="224.8"/></g>
<g stroke="#000" stroke-width="2.0" fill="none" stroke-linecap="round"><line x1="485.3" y1="191.0" x2="485.3" y2="206.5" stroke-width="2.3" stroke-linecap="butt"/><line x1="480.4" y1="191.0" x2="490.2" y2="191.0"/><line x1="480.4" y1="206.5" x2="490.2" y2="206.5"/><line x1="476.4" y1="198.6" x2="494.2" y2="198.6"/></g>
<g stroke="#000" stroke-width="1.9" fill="none" stroke-linecap="round"><line x1="573.6" y1="270.3" x2="573.6" y2="273.1" stroke-width="2.2" stroke-linecap="butt"/><line x1="569.2" y1="270.3" x2="578.0" y2="270.3"/><line x1="569.2" y1="273.1" x2="578.0" y2="273.1"/><line x1="565.1" y1="271.7" x2="582.1" y2="271.7"/></g>
<g stroke="#000" stroke-width="2.0" fill="none" stroke-linecap="round"><line x1="601.4" y1="167.4" x2="601.4" y2="188.9" stroke-width="2.3" stroke-linecap="butt"/><line x1="596.5" y1="167.4" x2="606.3" y2="167.4"/><line x1="596.5" y1="188.9" x2="606.3" y2="188.9"/><line x1="592.5" y1="178.2" x2="610.2" y2="178.2"/></g>
<g stroke="#000" stroke-width="2.0" fill="none" stroke-linecap="round"><line x1="629.5" y1="183.8" x2="629.5" y2="200.7" stroke-width="2.3" stroke-linecap="butt"/><line x1="624.6" y1="183.8" x2="634.4" y2="183.8"/><line x1="624.6" y1="200.7" x2="634.4" y2="200.7"/><line x1="620.6" y1="192.2" x2="638.4" y2="192.2"/></g>
<g stroke="#000" stroke-width="2.0" fill="none" stroke-linecap="round"><line x1="657.7" y1="180.4" x2="657.7" y2="196.0" stroke-width="2.3" stroke-linecap="butt"/><line x1="652.8" y1="180.4" x2="662.6" y2="180.4"/><line x1="652.8" y1="196.0" x2="662.6" y2="196.0"/><line x1="648.9" y1="188.3" x2="666.6" y2="188.3"/></g>
<g stroke="#000" stroke-width="2.0" fill="none" stroke-linecap="round"><line x1="685.5" y1="236.0" x2="685.5" y2="245.3" stroke-width="2.3" stroke-linecap="butt"/><line x1="680.6" y1="236.0" x2="690.4" y2="236.0"/><line x1="680.6" y1="245.3" x2="690.4" y2="245.3"/><line x1="676.6" y1="240.5" x2="694.4" y2="240.5"/></g>
<g stroke="#000" stroke-width="2.0" fill="none" stroke-linecap="round"><line x1="713.5" y1="230.4" x2="713.5" y2="238.5" stroke-width="2.3" stroke-linecap="butt"/><line x1="708.6" y1="230.4" x2="718.4" y2="230.4"/><line x1="708.6" y1="238.5" x2="718.4" y2="238.5"/><line x1="704.6" y1="234.3" x2="722.4" y2="234.3"/></g>
<path d="M41.30 14.0 V282.1 H279.5" stroke="#000" stroke-width="1.3" fill="none" stroke-linejoin="round"/><line x1="34.3" y1="272.3" x2="41.3" y2="272.3" stroke="#000" stroke-width="1.3" fill="none" stroke-linejoin="round"/><line x1="34.3" y1="176.7" x2="41.3" y2="176.7" stroke="#000" stroke-width="1.3" fill="none" stroke-linejoin="round"/><line x1="34.3" y1="81.0" x2="41.3" y2="81.0" stroke="#000" stroke-width="1.3" fill="none" stroke-linejoin="round"/><line x1="60.4" y1="282.1" x2="60.4" y2="289.1" stroke="#000" stroke-width="1.3" fill="none" stroke-linejoin="round"/><line x1="88.8" y1="282.1" x2="88.8" y2="289.1" stroke="#000" stroke-width="1.3" fill="none" stroke-linejoin="round"/><line x1="117.3" y1="282.1" x2="117.3" y2="289.1" stroke="#000" stroke-width="1.3" fill="none" stroke-linejoin="round"/><line x1="145.8" y1="282.1" x2="145.8" y2="289.1" stroke="#000" stroke-width="1.3" fill="none" stroke-linejoin="round"/><line x1="174.4" y1="282.1" x2="174.4" y2="289.1" stroke="#000" stroke-width="1.3" fill="none" stroke-linejoin="round"/><line x1="203.0" y1="282.1" x2="203.0" y2="289.1" stroke="#000" stroke-width="1.3" fill="none" stroke-linejoin="round"/><line x1="231.5" y1="282.1" x2="231.5" y2="289.1" stroke="#000" stroke-width="1.3" fill="none" stroke-linejoin="round"/><line x1="260.0" y1="282.1" x2="260.0" y2="289.1" stroke="#000" stroke-width="1.3" fill="none" stroke-linejoin="round"/>
<path d="M326.50 104.0 V282.5 H505.0" stroke="#000" stroke-width="1.3" fill="none" stroke-linejoin="round"/><line x1="318.9" y1="273.0" x2="326.5" y2="273.0" stroke="#000" stroke-width="1.3" fill="none" stroke-linejoin="round"/><line x1="318.9" y1="179.0" x2="326.5" y2="179.0" stroke="#000" stroke-width="1.3" fill="none" stroke-linejoin="round"/><line x1="345.2" y1="282.5" x2="345.2" y2="290.1" stroke="#000" stroke-width="1.3" fill="none" stroke-linejoin="round"/><line x1="373.4" y1="282.5" x2="373.4" y2="290.1" stroke="#000" stroke-width="1.3" fill="none" stroke-linejoin="round"/><line x1="401.3" y1="282.5" x2="401.3" y2="290.1" stroke="#000" stroke-width="1.3" fill="none" stroke-linejoin="round"/><line x1="429.6" y1="282.5" x2="429.6" y2="290.1" stroke="#000" stroke-width="1.3" fill="none" stroke-linejoin="round"/><line x1="457.4" y1="282.5" x2="457.4" y2="290.1" stroke="#000" stroke-width="1.3" fill="none" stroke-linejoin="round"/><line x1="485.3" y1="282.5" x2="485.3" y2="290.1" stroke="#000" stroke-width="1.3" fill="none" stroke-linejoin="round"/>
<path d="M555.00 102.8 V281.6 H732.8" stroke="#000" stroke-width="1.3" fill="none" stroke-linejoin="round"/><line x1="555.00" y1="102.8" x2="555.00" y2="281.6" stroke="#000" stroke-width="1.6"/><line x1="548.0" y1="272.3" x2="555.0" y2="272.3" stroke="#000" stroke-width="1.3" fill="none" stroke-linejoin="round"/><line x1="548.0" y1="178.2" x2="555.0" y2="178.2" stroke="#000" stroke-width="1.3" fill="none" stroke-linejoin="round"/><line x1="573.6" y1="281.6" x2="573.6" y2="288.6" stroke="#000" stroke-width="1.3" fill="none" stroke-linejoin="round"/><line x1="601.4" y1="281.6" x2="601.4" y2="288.6" stroke="#000" stroke-width="1.3" fill="none" stroke-linejoin="round"/><line x1="629.5" y1="281.6" x2="629.5" y2="288.6" stroke="#000" stroke-width="1.3" fill="none" stroke-linejoin="round"/><line x1="657.7" y1="281.6" x2="657.7" y2="288.6" stroke="#000" stroke-width="1.3" fill="none" stroke-linejoin="round"/><line x1="685.5" y1="281.6" x2="685.5" y2="288.6" stroke="#000" stroke-width="1.3" fill="none" stroke-linejoin="round"/><line x1="713.5" y1="281.6" x2="713.5" y2="288.6" stroke="#000" stroke-width="1.3" fill="none" stroke-linejoin="round"/>
<text x="142.5" y="17" font-size="21.6" stroke="#000" stroke-width="0.3" text-anchor="middle" textLength="87.0" lengthAdjust="spacingAndGlyphs">SLC26A4</text>
<text x="413.8" y="17" font-size="21.6" stroke="#000" stroke-width="0.3" text-anchor="middle" textLength="87.4" lengthAdjust="spacingAndGlyphs">SLC26A5</text>
<text x="640.3" y="17" font-size="21.6" stroke="#000" stroke-width="0.3" text-anchor="middle" textLength="87.0" lengthAdjust="spacingAndGlyphs">SLC26A9</text>
<clipPath id="one" clipPathUnits="userSpaceOnUse"><path d="M-9 -12 H-1.8 V0.6 H-5.2 V-2.5 H-9 Z"/></clipPath>
<text x="31.7" y="277.3" font-size="14.4" font-weight="bold" text-anchor="end" textLength="7.3" lengthAdjust="spacingAndGlyphs" stroke="#000" stroke-width="0.4">0</text>
<g transform="translate(32.50,181.90)" clip-path="url(#one)"><text x="0" y="0" font-size="14.4" font-weight="bold" text-anchor="end" textLength="7.3" lengthAdjust="spacingAndGlyphs" stroke="#000" stroke-width="0.7">1</text></g>
<text x="31.7" y="85.9" font-size="14.4" font-weight="bold" text-anchor="end" textLength="7.3" lengthAdjust="spacingAndGlyphs" stroke="#000" stroke-width="0.4">2</text>
<text x="316.9" y="277.7" font-size="14.4" font-weight="bold" text-anchor="end" textLength="7.3" lengthAdjust="spacingAndGlyphs" stroke="#000" stroke-width="0.4">0</text>
<g transform="translate(317.75,184.10)" clip-path="url(#one)"><text x="0" y="0" font-size="14.4" font-weight="bold" text-anchor="end" textLength="7.3" lengthAdjust="spacingAndGlyphs" stroke="#000" stroke-width="0.7">1</text></g>
<text x="545.5" y="277.5" font-size="14.4" font-weight="bold" text-anchor="end" textLength="7.3" lengthAdjust="spacingAndGlyphs" stroke="#000" stroke-width="0.4">0</text>
<g transform="translate(546.65,183.40)" clip-path="url(#one)"><text x="0" y="0" font-size="14.4" font-weight="bold" text-anchor="end" textLength="7.3" lengthAdjust="spacingAndGlyphs" stroke="#000" stroke-width="0.7">1</text></g>
<text transform="translate(63.7,300.3) rotate(-45.0)" font-size="14.2" font-weight="bold" text-anchor="end" letter-spacing="-0.40" stroke="#000" stroke-width="0.45">ctrl</text>
<text transform="translate(92.1,300.3) rotate(-45.0)" font-size="14.2" font-weight="bold" text-anchor="end" letter-spacing="-0.40" stroke="#000" stroke-width="0.45">hA4-WT</text>
<text transform="translate(120.6,300.3) rotate(-45.0)" font-size="14.2" font-weight="bold" text-anchor="end" letter-spacing="-0.40" stroke="#000" stroke-width="0.45">hA4-Y20H</text>
<text transform="translate(149.1,300.3) rotate(-45.0)" font-size="14.2" font-weight="bold" text-anchor="end" letter-spacing="-0.40" stroke="#000" stroke-width="0.45">hA4-V509G</text>
<text transform="translate(177.7,300.3) rotate(-45.0)" font-size="14.2" font-weight="bold" text-anchor="end" letter-spacing="-0.40" stroke="#000" stroke-width="0.45">hA4-V510D</text>
<text transform="translate(206.3,300.3) rotate(-45.0)" font-size="14.2" font-weight="bold" text-anchor="end" letter-spacing="-0.40" stroke="#000" stroke-width="0.45">hA4-V510I</text>
<text transform="translate(234.8,300.3) rotate(-45.0)" font-size="14.2" font-weight="bold" text-anchor="end" letter-spacing="-0.40" stroke="#000" stroke-width="0.45">hA4-H723D</text>
<text transform="translate(263.3,300.3) rotate(-45.0)" font-size="14.2" font-weight="bold" text-anchor="end" letter-spacing="-0.40" stroke="#000" stroke-width="0.45">hA4-H723Y</text>
<text transform="translate(348.5,300.3) rotate(-45.0)" font-size="14.2" font-weight="bold" text-anchor="end" letter-spacing="-0.40" stroke="#000" stroke-width="0.45">ctrl</text>
<text transform="translate(376.7,300.3) rotate(-45.0)" font-size="14.2" font-weight="bold" text-anchor="end" letter-spacing="-0.40" stroke="#000" stroke-width="0.45">mA5-WT</text>
<text transform="translate(404.6,300.3) rotate(-45.0)" font-size="14.2" font-weight="bold" text-anchor="end" letter-spacing="-0.40" stroke="#000" stroke-width="0.45">mA5-Y8H</text>
<text transform="translate(432.9,300.3) rotate(-45.0)" font-size="14.2" font-weight="bold" text-anchor="end" letter-spacing="-0.40" stroke="#000" stroke-width="0.45">mA5-R399V</text>
<text transform="translate(460.7,300.3) rotate(-45.0)" font-size="14.2" font-weight="bold" text-anchor="end" letter-spacing="-0.40" stroke="#000" stroke-width="0.45">mA5-I500V</text>
<text transform="translate(488.6,300.3) rotate(-45.0)" font-size="14.2" font-weight="bold" text-anchor="end" letter-spacing="-0.40" stroke="#000" stroke-width="0.45">mA5-H707R</text>
<text transform="translate(576.9,300.3) rotate(-45.0)" font-size="14.2" font-weight="bold" text-anchor="end" letter-spacing="-0.40" stroke="#000" stroke-width="0.45">ctrl</text>
<text transform="translate(604.7,300.3) rotate(-45.0)" font-size="14.2" font-weight="bold" text-anchor="end" letter-spacing="-0.40" stroke="#000" stroke-width="0.45">hA9-WT</text>
<text transform="translate(632.8,300.3) rotate(-45.0)" font-size="14.2" font-weight="bold" text-anchor="end" letter-spacing="-0.40" stroke="#000" stroke-width="0.45">hA9-Y8H</text>
<text transform="translate(661.0,300.3) rotate(-45.0)" font-size="14.2" font-weight="bold" text-anchor="end" letter-spacing="-0.40" stroke="#000" stroke-width="0.45">hA9-V393R</text>
<text transform="translate(688.8,300.3) rotate(-45.0)" font-size="14.2" font-weight="bold" text-anchor="end" letter-spacing="-0.40" stroke="#000" stroke-width="0.45">hA9-V493G</text>
<text transform="translate(716.8,300.3) rotate(-45.0)" font-size="14.2" font-weight="bold" text-anchor="end" letter-spacing="-0.40" stroke="#000" stroke-width="0.45">hA9-H731R</text>
<text transform="translate(11.6,214.4) rotate(-90)" font-size="14.6" font-weight="bold" stroke="#000" stroke-width="0.35" textLength="9.0" lengthAdjust="spacingAndGlyphs">F</text>
<text transform="translate(16.3,205.7) rotate(-90)" font-size="11.0" font-weight="bold" stroke="#000" stroke-width="0.35" textLength="19.6" lengthAdjust="spacingAndGlyphs">Cy3</text>
<text transform="translate(11.9,182.9) rotate(-90)" font-size="14.2" font-weight="bold" stroke="#000" stroke-width="0.35" textLength="4.6" lengthAdjust="spacingAndGlyphs">/</text>
<text transform="translate(11.6,174.4) rotate(-90)" font-size="14.6" font-weight="bold" stroke="#000" stroke-width="0.35" textLength="9.0" lengthAdjust="spacingAndGlyphs">F</text>
<text transform="translate(16.3,165.5) rotate(-90)" font-size="11.0" font-weight="bold" stroke="#000" stroke-width="0.35" textLength="27.5" lengthAdjust="spacingAndGlyphs">mTq2</text>
<text transform="translate(11.4,134.8) rotate(-90)" font-size="13.8" font-weight="normal" stroke="#000" stroke-width="0.25" textLength="52.0" lengthAdjust="spacingAndGlyphs">(re: WT)</text>
</svg>
</body></html>
